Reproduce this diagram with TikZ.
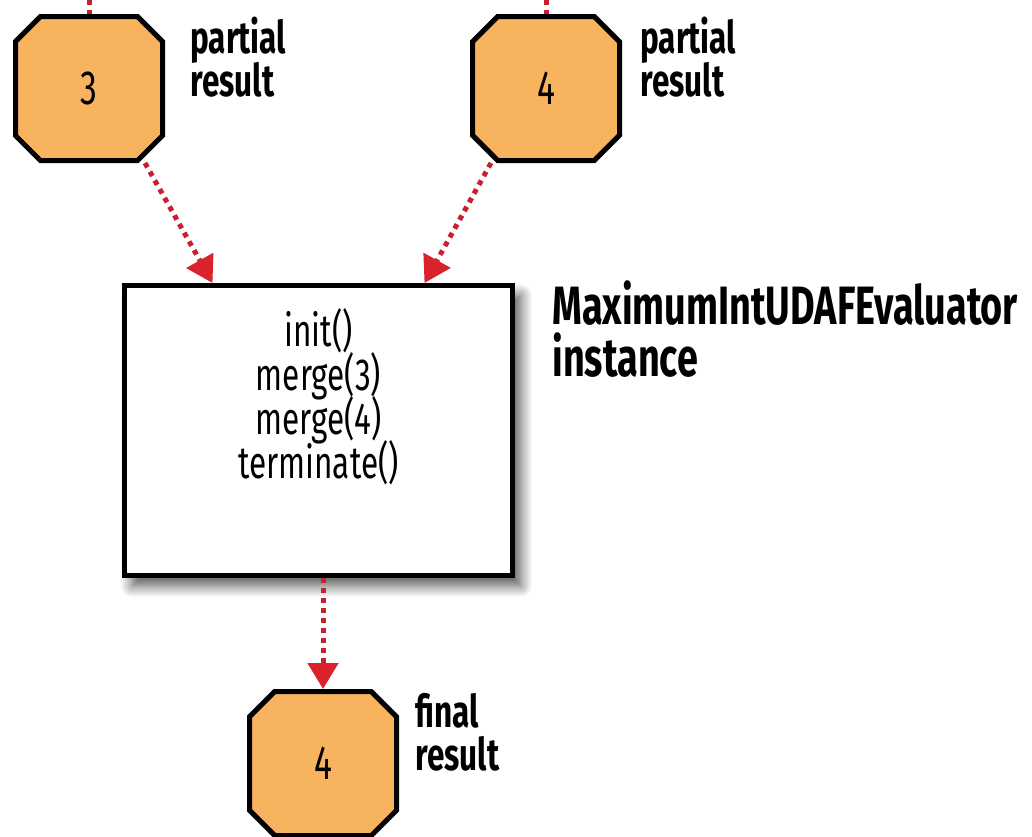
\documentclass[tikz,border=0pt]{standalone}
\usepackage{fontspec}
\setmainfont{Fira Sans}[FakeStretch=0.7]
\usepackage{tikz}
\usepackage{xcolor}
\usetikzlibrary{shapes.misc, arrows.meta, shadows.blur}
\definecolor{ResultOrange}{HTML}{F8B35E}
\definecolor{FlowRed}{HTML}{C8202E}
\definecolor{TipRed}{HTML}{D9222C}
\newcommand{\tightlead}{\setlength{\lineskiplimit}{-20pt}}

\begin{document}
\begin{tikzpicture}[x=0.5pt, y=-0.5pt,
  result/.style={chamfered rectangle, chamfered rectangle xsep=10pt, chamfered rectangle ysep=10pt,
    draw=black, line width=2.5pt, fill=ResultOrange, minimum width=73.5pt, minimum height=72pt,
    inner sep=0pt, font=\fontsize{24}{26}\selectfont},
  flow/.style={draw=FlowRed, line width=2.5pt, dash pattern=on 2.5pt off 2.5pt,
    -{Triangle[width=15pt, length=13pt, fill=TipRed, color=TipRed]}, shorten >=0pt},
  stub/.style={draw=FlowRed, line width=2.5pt, dash pattern=on 2.5pt off 2.5pt},
  tag/.style={align=left, anchor=north west, inner sep=0pt,
    font=\bfseries\fontsize{22.5}{21.5}\selectfont\tightlead}
]
\clip (0,0) rectangle (1032,836);
% --- partial results ---
\node[result] (pr3) at (89,88.5) {3};
\node[result] (pr4) at (546,88.5) {4};
\node[tag] (pr3lbl) at (190,17) {partial\\result};
\node[tag] (pr4lbl) at (640,17) {partial\\result};
% incoming lines from above (cut off)
\coordinate (in3) at (89,-40);
\coordinate (in4) at (546,-40);
\draw[stub] (in3) -- (pr3.north);
\draw[stub] (in4) -- (pr4.north);
% --- evaluator ---
\node[draw=black, line width=2.5pt, fill=white, minimum width=194pt, minimum height=145pt,
  blur shadow={shadow xshift=4pt, shadow yshift=-5pt, shadow blur steps=12,
    shadow blur radius=6pt, shadow opacity=70}]
  (eval) at (318.5,430.5) {};
\node[align=center, inner sep=0pt, font=\fontsize{22.5}{22}\selectfont\tightlead]
  (calls) at ([yshift=17pt]eval.center) {init()\\merge(3)\\merge(4)\\terminate()};
\node[align=left, anchor=north west, inner sep=0pt,
  font=\bfseries\fontsize{27}{26}\selectfont\tightlead]
  (evallbl) at (552,280) {MaximumIntUDAFEvaluator\\instance};
% --- final result ---
\node[result] (fin) at (323,763.5) {4};
\node[tag] (finlbl) at (415,693) {final\\result};
% Arrows
\draw[flow] ([xshift=28pt]pr3.south) -- ([xshift=-53pt]eval.north);
\draw[flow] ([xshift=-27.5pt]pr4.south) -- ([xshift=53pt]eval.north);
\draw[flow] ([xshift=2.25pt]eval.south) -- (fin.north);
\end{tikzpicture}
\end{document}
